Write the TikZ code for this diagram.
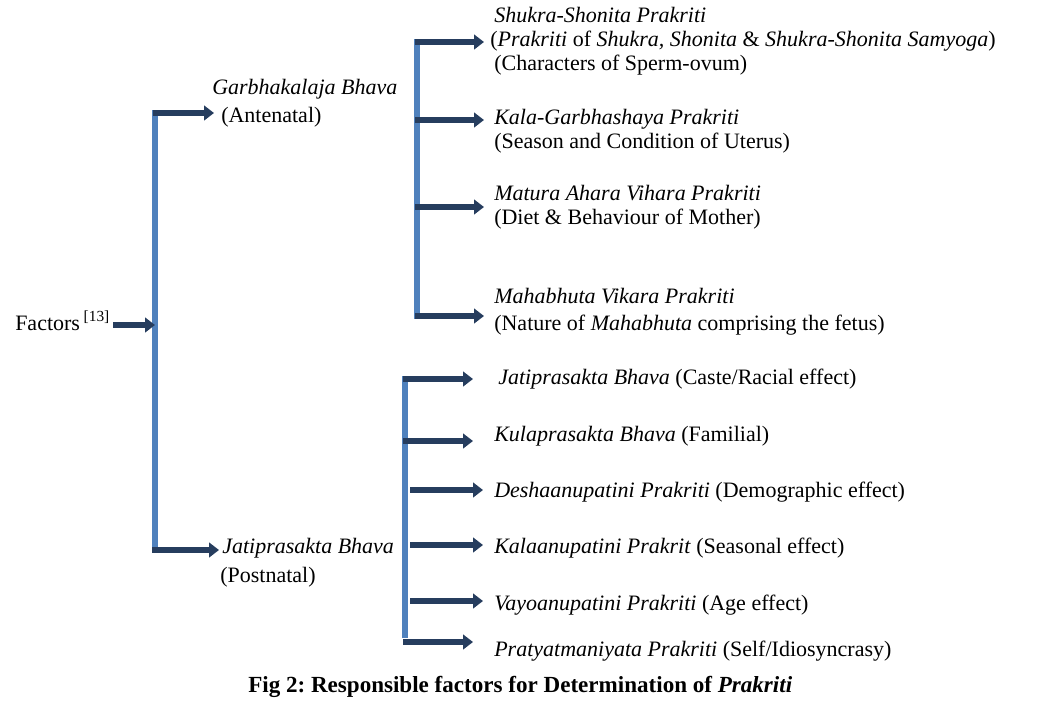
\documentclass[tikz,border=0pt]{standalone}
\usepackage{fontspec}
\setmainfont{Liberation Serif}
\usetikzlibrary{arrows.meta}
\definecolor{navy}{HTML}{263D5E}
\definecolor{barblue}{HTML}{4F81BD}
\frenchspacing
\begin{document}
\begin{tikzpicture}[x=0.75pt,y=-0.75pt,
  txt/.style={anchor=base west,inner sep=0pt,font=\fontsize{16.5}{20}\selectfont},
  captxt/.style={anchor=base west,inner sep=0pt,font=\bfseries\fontsize{17.3}{20}\selectfont},
  bar/.style={draw=barblue,line width=3.8pt},
  arr/.style={draw=navy,line width=4.5pt,-{Triangle[length=7.5pt,width=11pt]}}]
\useasboundingbox (0,0) rectangle (1064,700);
% texts
\node[txt] (factors) at (15,330) {Factors\,\textsuperscript{[13]}};
\node[txt] (garbha1) at (212,94) {\itshape Garbhakalaja Bhava};
\node[txt] (garbha2) at (221,122) {(Antenatal)};
\node[txt] (jati1) at (222,553) {\itshape Jatiprasakta Bhava};
\node[txt] (jati2) at (220,582) {(Postnatal)};
\node[txt] (s1) at (494,22) {\itshape Shukra-Shonita Prakriti};
\node[txt] (s2) at (490,46) {(\textit{Prakriti} of \textit{Shukra, Shonita} \& \textit{Shukra-Shonita Samyoga})};
\node[txt] (s3) at (494,70) {(Characters of Sperm-ovum)};
\node[txt] (k1) at (494,124) {\itshape Kala-Garbhashaya Prakriti};
\node[txt] (k2) at (494,148) {(Season and Condition of Uterus)};
\node[txt] (m1) at (494,200) {\itshape Matura Ahara Vihara Prakriti};
\node[txt] (m2) at (494,224) {(Diet \& Behaviour of Mother)};
\node[txt] (v1) at (494,303) {\itshape Mahabhuta Vikara Prakriti};
\node[txt] (v2) at (494,330) {(Nature of \textit{Mahabhuta} comprising the fetus)};
\node[txt] (p1) at (498,384) {\textit{Jatiprasakta Bhava} (Caste/Racial effect)};
\node[txt] (p2) at (494,441) {\textit{Kulaprasakta Bhava} (Familial)};
\node[txt] (p3) at (494,497) {\textit{Deshaanupatini Prakriti} (Demographic effect)};
\node[txt] (p4) at (494,553) {\textit{Kalaanupatini Prakrit} (Seasonal effect)};
\node[txt] (p5) at (494,610) {\textit{Vayoanupatini Prakriti} (Age effect)};
\node[txt] (p6) at (494,656) {\textit{Pratyatmaniyata Prakriti} (Self/Idiosyncrasy)};
\node[captxt] (caption) at (248,692) {Fig 2: Responsible factors for Determination of \textit{Prakriti}};
% bar coordinates
\coordinate (mt) at (155,110);
\coordinate (mb) at (155,553);
\coordinate (ut) at (417,39);
\coordinate (ub) at (417,319);
\coordinate (lt) at (405,376);
\coordinate (lb) at (405,638);
% bars
\draw[bar] (mt) -- (mb);
\draw[bar] (ut) -- (ub);
\draw[bar] (lt) -- (lb);
% arrow coordinates
\coordinate (fs) at (113,325); \coordinate (fe) at (155,325);
\coordinate (gs) at (153,113); \coordinate (ge) at (214,113);
\coordinate (js) at (152,550); \coordinate (je) at (219,550);
\coordinate (a1s) at (415,42);  \coordinate (a1e) at (484,42);
\coordinate (a2s) at (415,120); \coordinate (a2e) at (484,120);
\coordinate (a3s) at (415,207); \coordinate (a3e) at (484,207);
\coordinate (a4s) at (415,316); \coordinate (a4e) at (484,316);
\coordinate (b1s) at (403,379); \coordinate (b1e) at (473,379);
\coordinate (b2s) at (403,441); \coordinate (b2e) at (473,441);
\coordinate (b3s) at (410,490); \coordinate (b3e) at (483,490);
\coordinate (b4s) at (410,545); \coordinate (b4e) at (483,545);
\coordinate (b5s) at (410,601); \coordinate (b5e) at (483,601);
\coordinate (b6s) at (403,642); \coordinate (b6e) at (473,642);
\draw[arr] (fs) -- (fe);
\draw[arr] (gs) -- (ge);
\draw[arr] (js) -- (je);
\foreach \a in {a1,a2,a3,a4,b1,b2,b3,b4,b5,b6}
  \draw[arr] (\a s) -- (\a e);
\end{tikzpicture}
\end{document}
